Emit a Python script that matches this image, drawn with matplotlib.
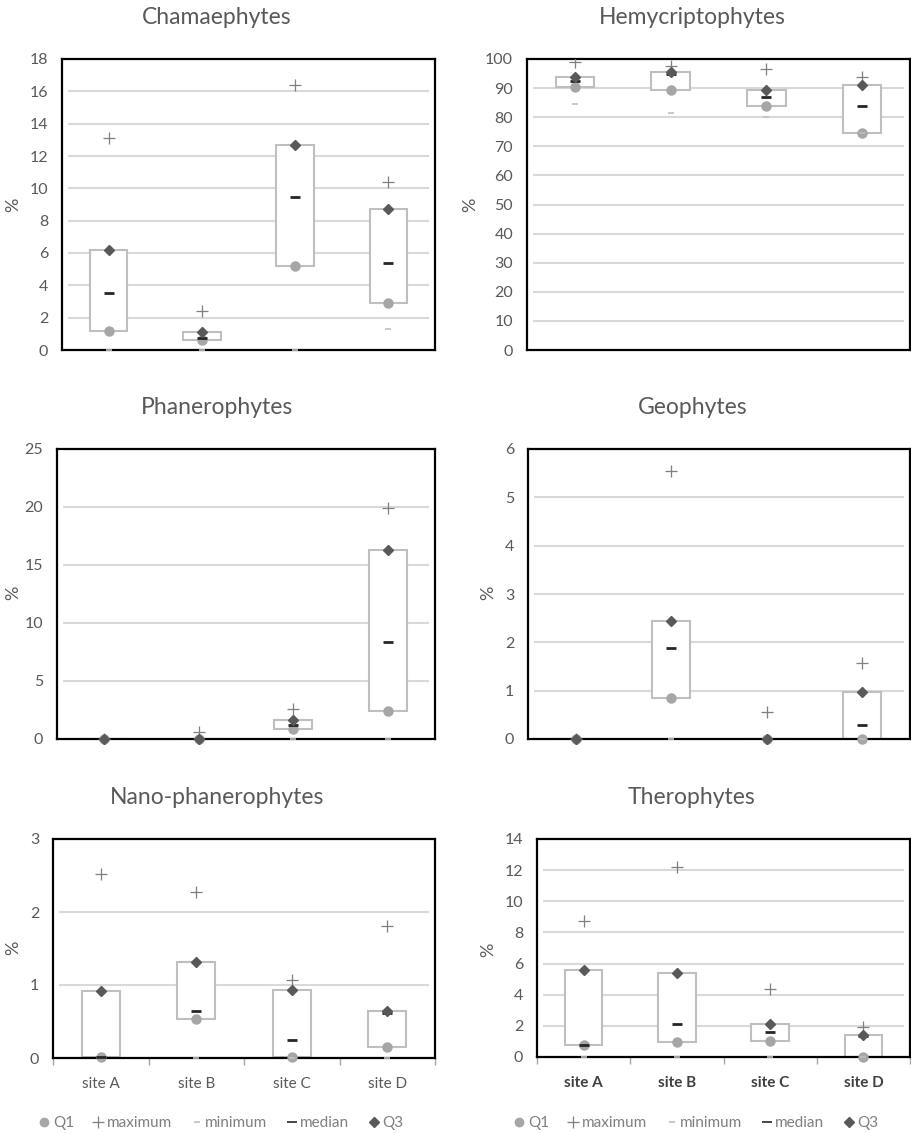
import matplotlib
matplotlib.use('Agg')
import matplotlib.pyplot as plt
from matplotlib.lines import Line2D
import numpy as np

plt.rcParams['font.family'] = ['Lato', 'DejaVu Sans']

sites = ['site A', 'site B', 'site C', 'site D']

# Chamaephytes
cham_q1 = [1.2, 0.6, 5.2, 2.9]
cham_q3 = [6.2, 1.1, 12.7, 8.7]
cham_med = [3.5, 0.75, 9.45, 5.4]
cham_max = [13.1, 2.4, 16.4, 10.4]
cham_min = [0, 0, 0, 1.3]

# Hemycriptophytes
hemy_q1 = [90.3, 89.3, 84.0, 74.5]
hemy_q3 = [93.8, 95.5, 89.2, 91.0]
hemy_med = [92.3, 94.8, 86.8, 83.8]
hemy_max = [98.8, 97.6, 96.5, 93.8]
hemy_min = [84.4, 81.6, 80.1, 74.5]

# Phanerophytes
phan_q1 = [0, 0, 0.85, 2.45]
phan_q3 = [0, 0, 1.65, 16.3]
phan_med = [0, 0, 1.2, 8.35]
phan_max = [0, 0.6, 2.6, 19.9]
phan_min = [0, 0, 0, 0]

# Geophytes
geo_q1 = [0, 0.85, 0, 0]
geo_q3 = [0, 2.45, 0, 0.97]
geo_med = [0, 1.88, 0, 0.28]
geo_max = [0, 5.55, 0.55, 1.57]
geo_min = [0, 0, 0, 0]

# Nano-phanerophytes
nano_q1 = [0.01, 0.53, 0.01, 0.15]
nano_q3 = [0.92, 1.32, 0.93, 0.65]
nano_med = [0.02, 0.65, 0.25, 0.62]
nano_max = [2.52, 2.28, 1.07, 1.81]
nano_min = [0, 0, 0, 0]

# Therophytes
thero_q1 = [0.8, 0.95, 1.0, 0.0]
thero_q3 = [5.6, 5.4, 2.15, 1.4]
thero_med = [0.8, 2.1, 1.6, 1.35]
thero_max = [8.75, 12.2, 4.35, 1.95]
thero_min = [0, 0, 0, 0]

W, H = 911, 1134
fig = plt.figure(figsize=(W / 100, H / 100), dpi=100)

TXT = '#595959'
GRID = '#d9d9d9'
BOXC = '#bfbfbf'
Q1C = '#a6a6a6'
Q3C = '#595959'
MEDC = '#262626'
MAXC = '#7f7f7f'
MINC = '#bfbfbf'


def px_axes(l, t, r, b):
    return fig.add_axes([l / W, 1 - b / H, (r - l) / W, (b - t) / H])


def panel(box, title, tx, ty, ylx, yly, q1, q3, med, mx, mn, ymax, ystep,
          bottom=False, bold_x=False):
    ax = px_axes(*box)
    x = np.arange(len(sites))
    q1 = np.array(q1)
    q3 = np.array(q3)
    ticks = np.arange(0, ymax + ystep / 2, ystep)
    ax.hlines(ticks[1:-1], -0.44, 3.44, color=GRID, lw=1.5, zorder=0)
    ax.bar(x, q3 - q1, bottom=q1, width=0.4, color='white',
           edgecolor=BOXC, linewidth=1.5, zorder=2)
    ax.plot(x, q1, 'o', color=Q1C, ms=6.5, zorder=3, clip_on=False)
    ax.plot(x, mx, '+', color=MAXC, ms=9, mew=0.9, zorder=3)
    ax.plot(x, mn, '_', color=MINC, ms=4, mew=1.2, zorder=3, clip_on=False)
    ax.plot(x, med, '_', color=MEDC, ms=7, mew=2, zorder=4)
    ax.plot(x, q3, 'D', color=Q3C, ms=5.5, zorder=5, clip_on=False)
    ax.set_xlim(-0.5, 3.5)
    ax.set_ylim(0, ymax)
    ax.set_yticks(ticks)
    ax.tick_params(axis='y', length=0, pad=10, labelsize=11.5, labelcolor=TXT)
    for s in ax.spines.values():
        s.set_color('black')
        s.set_linewidth(1.6)
    if bottom:
        ax.set_xticks(x)
        ax.set_xticklabels(sites, fontsize=11,
                           color='#404040' if bold_x else TXT,
                           fontweight='bold' if bold_x else 'normal')
        ax.set_xticks(np.arange(-0.5, 3.6, 1), minor=True)
        ax.tick_params(axis='x', which='major', length=0, pad=14)
        ax.tick_params(axis='x', which='minor', length=5, color='#a6a6a6',
                       width=1)
    else:
        ax.set_xticks([])
    fig.text(tx / W, 1 - ty / H, title, ha='center', va='center',
             fontsize=16.5, color=TXT)
    fig.text(ylx / W, 1 - yly / H, '%', ha='center', va='center',
             rotation=90, fontsize=13, color=TXT)
    return ax


panel((62, 59, 435, 350), 'Chamaephytes', 217, 17, 13, 205,
      cham_q1, cham_q3, cham_med, cham_max, cham_min, 18, 2)
panel((527, 59, 910, 350), 'Hemycriptophytes', 692, 17, 470, 205,
      hemy_q1, hemy_q3, hemy_med, hemy_max, hemy_min, 100, 10)
panel((57, 449, 435, 739), 'Phanerophytes', 217, 407, 13, 593,
      phan_q1, phan_q3, phan_med, phan_max, phan_min, 25, 5)
panel((528, 449, 910, 739), 'Geophytes', 693, 407, 488, 593,
      geo_q1, geo_q3, geo_med, geo_max, geo_min, 6, 1)
panel((53, 839, 435, 1058), 'Nano-phanerophytes', 217, 797, 13, 948,
      nano_q1, nano_q3, nano_med, nano_max, nano_min, 3, 1, bottom=True)
panel((537, 839, 910, 1057), 'Therophytes', 692, 797, 488, 950,
      thero_q1, thero_q3, thero_med, thero_max, thero_min, 14, 2,
      bottom=True, bold_x=True)

handles = [
    Line2D([], [], ls='none', marker='o', color=Q1C, ms=6),
    Line2D([], [], ls='none', marker='+', color=MAXC, ms=8, mew=0.9),
    Line2D([], [], ls='none', marker='_', color=MINC, ms=4, mew=1.2),
    Line2D([], [], ls='none', marker='_', color=MEDC, ms=7, mew=1.2),
    Line2D([], [], ls='none', marker='D', color=Q3C, ms=5),
]
labels = ['Q1', 'maximum', 'minimum', 'median', 'Q3']
for cx in (220, 695):
    fig.legend(handles, labels, loc='center', bbox_to_anchor=(cx / W, 1 - 1123 / H),
               ncol=5, frameon=False, fontsize=11, labelcolor='#7f7f7f',
               handletextpad=0.05, columnspacing=1.1, handlelength=1.0)

fig.savefig('out.png', dpi=100, facecolor='white')
